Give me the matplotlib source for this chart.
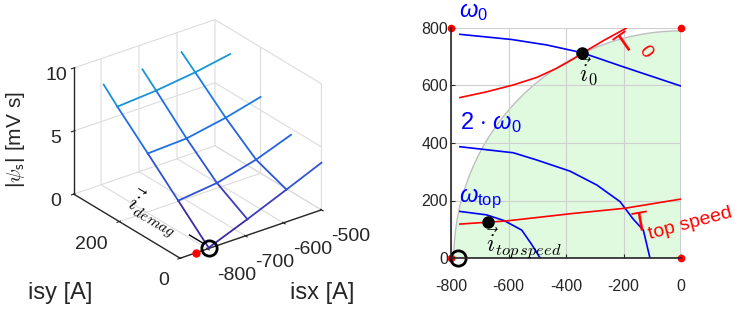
import numpy as np
import matplotlib
matplotlib.use('Agg')
import matplotlib.pyplot as plt
from matplotlib.patches import Wedge
from matplotlib.colors import LinearSegmentedColormap, Normalize

plt.rcParams['font.family'] = ['Liberation Sans', 'DejaVu Sans']
plt.rcParams['mathtext.fontset'] = 'custom'
plt.rcParams['mathtext.rm'] = 'Liberation Sans'
plt.rcParams['mathtext.it'] = 'Liberation Sans:italic'
plt.rcParams['mathtext.bf'] = 'Liberation Sans:bold'
plt.rcParams['axes.unicode_minus'] = False
plt.rcParams['grid.color'] = '#dcdcdc'
plt.rcParams['grid.linewidth'] = 0.8

# ---------------- data: left (flux mesh) ----------------
isx_cols = [-797, -695, -592]          # constant-isx mesh lines [A]
isx_edge = -500                        # where constant-isy lines leave the box
isy_rows = [0, 100, 200, 300]          # constant-isy mesh lines [A]
isy_top = 345                          # where constant-isx lines leave the box
psi_rows = [[0.06, 1.27, 2.56, 3.74],  # |psi_s| [mV s] on each isy row
            [2.34, 2.69, 3.48, 4.50],
            [4.63, 4.77, 5.35, 6.05],
            [6.89, 7.11, 7.50, 8.00]]
psi_top = [7.98, 8.14, 8.45]
demag_pt = (-797, 0, 0)
red_pt3d = (-830, 0, 0)

x3_ticks = [-800, -700, -600, -500]
y3_ticks = [0, 200]
z3_ticks = [0, 5, 10]

# ---------------- data: right (current plane) ----------------
w0_x = [-769, -589, -467, -344, -201, 0]
w0_y = [778, 760, 741, 714, 665, 598]
w2_x = [-769, -583, -502, -386, -293, -212, -166, -131, -108]
w2_y = [387, 366, 341, 302, 254, 196, 135, 97, 0]
wt_x = [-769, -676, -615, -554, -520, -490]
wt_y = [162, 150, 130, 97, 48, 0]
t0_x = [-769, -676, -583, -502, -432, -375, -344, -270, -191]
t0_y = [558, 578, 602, 628, 660, 692, 712, 756, 799]
tt_x = [-769, -606, -375, -195, 0]
tt_y = [118, 129, 155, 173, 205]
i0 = (-344, 713)
itop = (-672, 124)
idemag = (-775, 0)
corner_x = [-800, -800, 0, 0]
corner_y = [0, 800, 800, 0]
region_radius = 790
x_ticks = [-800, -600, -400, -200, 0]
y_ticks = [0, 200, 400, 600, 800]

W, H = 740, 316
fig = plt.figure(figsize=(W / 100, H / 100), dpi=100)

def fx(px):
    return px / W

def fy(py):
    return 1 - py / H

# =================== left 3D panel ===================
ax3 = fig.add_axes([fx(-4), fy(293), fx(395), fy(0) - fy(300)],
                   projection='3d', proj_type='ortho')
ax3.view_init(elev=27, azim=-127)
ax3.set_box_aspect((1, 1, 0.80), zoom=0.93)
ax3.set_xlim(-872, -500)
ax3.set_ylim(0, 350)
ax3.set_zlim(0, 10)
ax3.set_xticks(x3_ticks)
ax3.set_yticks(y3_ticks)
ax3.set_zticks(z3_ticks)
for axis in (ax3.xaxis, ax3.yaxis, ax3.zaxis):
    axis.set_pane_color((1, 1, 1, 0))
    axis.pane.set_edgecolor('#d4d4d4')
    axis.line.set_color('#262626')
    axis.line.set_linewidth(1.0)
ax3.tick_params(labelsize=14, colors='#262626', pad=0)
ax3.tick_params(axis='x', pad=2.5)
ax3.tick_params(axis='y', pad=1)
for lbl in ax3.get_xticklabels():
    lbl.set_ha('left')
for lbl in ax3.get_yticklabels():
    lbl.set_ha('right')

cmap = LinearSegmentedColormap.from_list(
    'par', [(0.0, '#3e28a6'), (0.15, '#3c3cbf'), (0.28, '#3052d6'),
            (0.42, '#2463e0'), (0.56, '#1f70e6'), (0.8, '#1991d8'),
            (1.0, '#17a2d4')])
norm = Normalize(0, 8.5)

def seg_line(xs, ys, zs):
    for k in range(len(xs) - 1):
        ax3.plot(xs[k:k + 2], ys[k:k + 2], zs[k:k + 2],
                 color=cmap(norm(zs[k])), lw=1.3)

xs_row = isx_cols + [isx_edge]
for r, yv in enumerate(isy_rows):
    seg_line(xs_row, [yv] * len(xs_row), psi_rows[r])
ys_col = isy_rows + [isy_top]
for c, xv in enumerate(isx_cols):
    zs = [psi_rows[r][c] for r in range(len(isy_rows))] + [psi_top[c]]
    seg_line([xv] * len(ys_col), ys_col, zs)

ax3.plot([demag_pt[0]] * 2, [15, 63], [0.15, 0.15], color='k', lw=1.0)
ax3.plot([red_pt3d[0]], [red_pt3d[1]], [red_pt3d[2]], 'o', color='red', ms=5)
ax3.plot([demag_pt[0]], [demag_pt[1]], [demag_pt[2]], 'o', mfc='none',
         mec='k', ms=11, mew=2)

fig.text(fx(154), fy(214), r'$\vec{i}_{demag}$', fontsize=16, rotation=-30,
         math_fontfamily='cm', ha='center', va='center')
fig.text(fx(60), fy(293), 'isy [A]', fontsize=17, ha='center', va='center',
         color='#262626')
fig.text(fx(322), fy(293), 'isx [A]', fontsize=17, ha='center', va='center',
         color='#262626')
fig.text(fx(16), fy(140), r'|$\psi_{\mathsf{s}}$| [mV s]', fontsize=15,
         rotation=90, ha='center', va='center', color='#262626',
         math_fontfamily='cm')

# =================== right 2D panel ===================
ax = fig.add_axes([fx(451), fy(258), fx(681) - fx(451), fy(28) - fy(258)])
ax.set_xlim(-800, 0)
ax.set_ylim(0, 800)
ax.add_patch(Wedge((0, 0), region_radius, 90, 180, facecolor='#e0fae0',
                   edgecolor='#bfbfbf', lw=1.0, zorder=0.5))
ax.grid(True, color='#cfcfcf', lw=0.8)
ax.set_axisbelow('line')
ax.set_xticks(x_ticks)
ax.set_yticks(y_ticks)
for s in ('top', 'right'):
    ax.spines[s].set_visible(False)
for s in ('left', 'bottom'):
    ax.spines[s].set_color('#262626')
    ax.spines[s].set_linewidth(1.2)
ax.tick_params(direction='in', length=3, labelsize=11.5, colors='#262626')
ax.tick_params(axis='x', pad=15)
ax.tick_params(axis='y', pad=2)

ax.plot(w0_x, w0_y, color='blue', lw=1.2)
ax.plot(w2_x, w2_y, color='blue', lw=1.2)
ax.plot(wt_x, wt_y, color='blue', lw=1.2)
ax.plot(t0_x, t0_y, color='red', lw=1.2)
ax.plot(tt_x, tt_y, color='red', lw=1.2)
ax.plot([i0[0]], [i0[1]], 'o', color='k', ms=8)
ax.plot([itop[0]], [itop[1]], 'o', color='k', ms=8)
ax.plot(corner_x, corner_y, 'o', color='red', ms=4.5, ls='none', clip_on=False)
ax.plot([idemag[0]], [idemag[1]], 'o', mfc='none', mec='k', ms=11, mew=2,
        clip_on=False)

ax.text(-772, 838, r'$\omega_{\rm 0}$', color='blue', fontsize=17,
        ha='left', va='baseline')
ax.text(-770, 449, r'2 $\cdot$ $\omega_{\rm 0}$', color='blue', fontsize=17,
        ha='left', va='baseline')
ax.text(-772, 195, r'$\omega_{\rm top}$', color='blue', fontsize=17,
        ha='left', va='baseline')
ax.text(-192, 743, 'T', color='red', fontsize=20, rotation=35,
        ha='center', va='center')
ax.text(-125, 716, '0', color='red', fontsize=14, rotation=-55,
        ha='center', va='center')
ax.text(-167, 90, 'T', color='red', fontsize=20, rotation=10,
        rotation_mode='anchor', ha='left', va='baseline')
ax.text(-108, 65, 'top speed', color='red', fontsize=14, rotation=15,
        rotation_mode='anchor', ha='left', va='baseline', clip_on=False)
ax.text(-354, 702, r'$\vec{i}_0$', fontsize=17, math_fontfamily='cm',
        ha='left', va='top')
ax.text(-680, 114, r'$\vec{i}_{top\,speed}$', fontsize=17,
        math_fontfamily='cm', ha='left', va='top')

fig.savefig('out.png', dpi=100)
